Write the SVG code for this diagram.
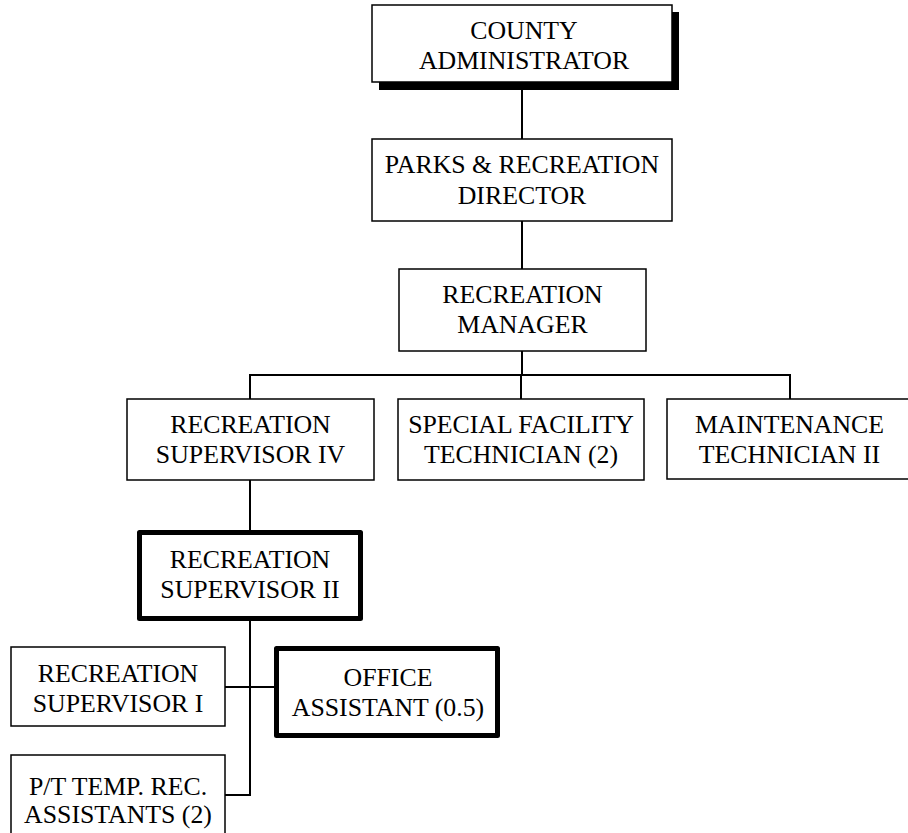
<svg xmlns="http://www.w3.org/2000/svg" width="908" height="833" viewBox="0 0 908 833">
  <style>
    .box { fill: #ffffff; stroke: #000000; stroke-width: 1.5; }
    .bold { fill: #ffffff; stroke: #000000; stroke-width: 5; stroke-linejoin: round; }
    .shadow { fill: #000000; }
    .lbl { font-family: "Liberation Serif", "Times New Roman", serif; font-size: 25.8px; fill: #000000; text-anchor: middle; }
    .wire { stroke: #000000; stroke-width: 2; fill: none; }
  </style>
  <rect width="908" height="833" fill="#ffffff"/>

  <g id="connectors">
    <line class="wire" x1="522" y1="90" x2="522" y2="139"/>
    <line class="wire" x1="522" y1="221" x2="522" y2="269"/>
    <line class="wire" x1="522" y1="351" x2="522" y2="375"/>
    <polyline class="wire" points="250,399 250,375 790,375 790,399"/>
    <line class="wire" x1="521" y1="375" x2="521" y2="399"/>
    <line class="wire" x1="250" y1="480" x2="250" y2="530"/>
    <polyline class="wire" points="250,621 250,795 225,795"/>
    <line class="wire" x1="225" y1="687" x2="274" y2="687"/>
  </g>

  <g id="county-administrator">
    <rect class="shadow" x="379" y="12" width="300" height="78"/>
    <rect class="box" x="372" y="5" width="300" height="77"/>
    <text class="lbl" x="524" y="39">COUNTY</text>
    <text class="lbl" x="524" y="69">ADMINISTRATOR</text>
  </g>

  <g id="parks-recreation-director">
    <rect class="box" x="372" y="139" width="300" height="82"/>
    <text class="lbl" x="522" y="173">PARKS &amp; RECREATION</text>
    <text class="lbl" x="522" y="204">DIRECTOR</text>
  </g>

  <g id="recreation-manager">
    <rect class="box" x="399" y="269" width="247" height="82"/>
    <text class="lbl" x="522.5" y="303">RECREATION</text>
    <text class="lbl" x="522.5" y="333">MANAGER</text>
  </g>

  <g id="recreation-supervisor-iv">
    <rect class="box" x="127" y="399" width="247" height="81"/>
    <text class="lbl" x="250.5" y="433">RECREATION</text>
    <text class="lbl" x="250.5" y="463">SUPERVISOR IV</text>
  </g>

  <g id="special-facility-technician">
    <rect class="box" x="398" y="399" width="246" height="81"/>
    <text class="lbl" x="521" y="433">SPECIAL FACILITY</text>
    <text class="lbl" x="521" y="463">TECHNICIAN (2)</text>
  </g>

  <g id="maintenance-technician">
    <rect class="box" x="667" y="399" width="245" height="80"/>
    <text class="lbl" x="789.5" y="433">MAINTENANCE</text>
    <text class="lbl" x="789.5" y="463">TECHNICIAN II</text>
  </g>

  <g id="recreation-supervisor-ii">
    <rect class="bold" x="139.5" y="532.5" width="221" height="86"/>
    <text class="lbl" x="250" y="568">RECREATION</text>
    <text class="lbl" x="250" y="598">SUPERVISOR II</text>
  </g>

  <g id="recreation-supervisor-i">
    <rect class="box" x="11" y="647" width="214" height="79"/>
    <text class="lbl" x="118" y="682">RECREATION</text>
    <text class="lbl" x="118" y="712">SUPERVISOR I</text>
  </g>

  <g id="office-assistant">
    <rect class="bold" x="276.5" y="648.5" width="221" height="87"/>
    <text class="lbl" x="388" y="686">OFFICE</text>
    <text class="lbl" x="388" y="716">ASSISTANT (0.5)</text>
  </g>

  <g id="pt-temp-rec-assistants">
    <rect class="box" x="11" y="755" width="214" height="90"/>
    <text class="lbl" x="118" y="795">P/T TEMP. REC.</text>
    <text class="lbl" x="118" y="823">ASSISTANTS (2)</text>
  </g>
</svg>
